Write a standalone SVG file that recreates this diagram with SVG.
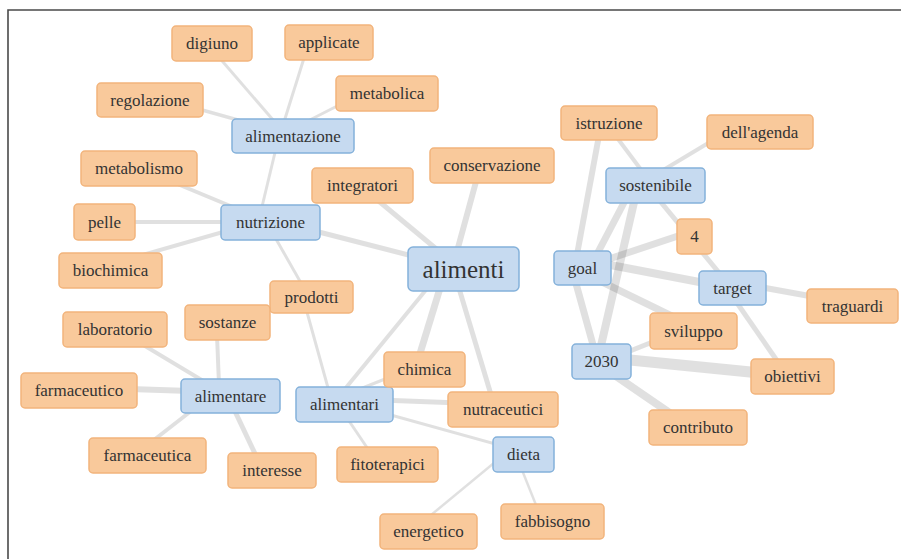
<svg xmlns="http://www.w3.org/2000/svg" width="901" height="559" viewBox="0 0 901 559">
<style>
.e{stroke:#000;stroke-opacity:0.12;fill:none;stroke-linecap:butt}
.o{fill:#f9c99b;stroke:#f2b47c;stroke-width:1.5}
.b{fill:#c6daf0;stroke:#84b1da;stroke-width:1.5}
text{font-family:"Liberation Serif","Times New Roman",serif;font-size:17px;fill:#333;text-anchor:middle;dominant-baseline:central}
.big{font-size:25px}
</style>
<rect width="901" height="559" fill="#fff"/>
<path d="M8 559 V10 H901" fill="none" stroke="#4a4a4a" stroke-width="1.6"/>
<g id="connectors">
<line class="e" x1="217" y1="55" x2="280" y2="128" stroke-width="3"/>
<line class="e" x1="305" y1="55" x2="283" y2="125" stroke-width="3"/>
<line class="e" x1="195" y1="108" x2="245" y2="122" stroke-width="3.5"/>
<line class="e" x1="345" y1="102" x2="300" y2="125" stroke-width="3"/>
<line class="e" x1="278" y1="140" x2="260" y2="215" stroke-width="3"/>
<line class="e" x1="175" y1="183" x2="240" y2="210" stroke-width="4"/>
<line class="e" x1="130" y1="222" x2="225" y2="222" stroke-width="4"/>
<line class="e" x1="125" y1="260" x2="230" y2="230" stroke-width="4"/>
<line class="e" x1="272" y1="232" x2="305" y2="290" stroke-width="3"/>
<line class="e" x1="305" y1="305" x2="330" y2="395" stroke-width="3"/>
<line class="e" x1="315" y1="231" x2="420" y2="258" stroke-width="5"/>
<line class="e" x1="375" y1="198" x2="440" y2="252" stroke-width="5"/>
<line class="e" x1="477" y1="178" x2="456" y2="255" stroke-width="6"/>
<line class="e" x1="430" y1="285" x2="340" y2="395" stroke-width="4"/>
<line class="e" x1="441" y1="285" x2="418" y2="360" stroke-width="7"/>
<line class="e" x1="458" y1="285" x2="492" y2="398" stroke-width="5"/>
<line class="e" x1="345" y1="395" x2="395" y2="375" stroke-width="3"/>
<line class="e" x1="380" y1="400" x2="460" y2="403" stroke-width="5"/>
<line class="e" x1="380" y1="412" x2="510" y2="448" stroke-width="3"/>
<line class="e" x1="345" y1="415" x2="370" y2="452" stroke-width="3"/>
<line class="e" x1="500" y1="458" x2="425" y2="520" stroke-width="2.5"/>
<line class="e" x1="520" y1="465" x2="538" y2="510" stroke-width="2.5"/>
<line class="e" x1="135" y1="340" x2="215" y2="388" stroke-width="4"/>
<line class="e" x1="217" y1="335" x2="219" y2="385" stroke-width="4"/>
<line class="e" x1="130" y1="389" x2="190" y2="391" stroke-width="6"/>
<line class="e" x1="150" y1="443" x2="195" y2="408" stroke-width="4"/>
<line class="e" x1="232" y1="405" x2="258" y2="460" stroke-width="5"/>
<line class="e" x1="615" y1="135" x2="645" y2="175" stroke-width="4"/>
<line class="e" x1="600" y1="130" x2="576" y2="260" stroke-width="6"/>
<line class="e" x1="575" y1="280" x2="595" y2="352" stroke-width="7"/>
<line class="e" x1="715" y1="139" x2="655" y2="175" stroke-width="4"/>
<line class="e" x1="628" y1="195" x2="595" y2="258" stroke-width="7"/>
<line class="e" x1="635" y1="198" x2="600" y2="350" stroke-width="8"/>
<line class="e" x1="655" y1="195" x2="725" y2="280" stroke-width="5"/>
<line class="e" x1="600" y1="262" x2="690" y2="232" stroke-width="7"/>
<line class="e" x1="600" y1="263" x2="715" y2="285" stroke-width="8"/>
<line class="e" x1="600" y1="281" x2="680" y2="320" stroke-width="7"/>
<line class="e" x1="620" y1="355" x2="670" y2="335" stroke-width="5"/>
<line class="e" x1="620" y1="359" x2="770" y2="374" stroke-width="11"/>
<line class="e" x1="610" y1="372" x2="680" y2="420" stroke-width="8"/>
<line class="e" x1="760" y1="287" x2="815" y2="297" stroke-width="6"/>
<line class="e" x1="735" y1="300" x2="780" y2="365" stroke-width="5"/>
</g>
<g id="digiuno"><rect class="o" x="172" y="26" width="80" height="35" rx="4"/><text x="212" y="43.5">digiuno</text></g>
<g id="applicate"><rect class="o" x="285" y="25" width="88" height="35" rx="4"/><text x="329" y="42.5">applicate</text></g>
<g id="regolazione"><rect class="o" x="97" y="83" width="106" height="34" rx="4"/><text x="150" y="100">regolazione</text></g>
<g id="metabolica"><rect class="o" x="336" y="76" width="102" height="35" rx="4"/><text x="387" y="93.5">metabolica</text></g>
<g id="alimentazione"><rect class="b" x="232" y="119" width="122" height="34" rx="4"/><text x="293" y="136">alimentazione</text></g>
<g id="metabolismo"><rect class="o" x="81" y="151" width="116" height="35" rx="4"/><text x="139" y="168.5">metabolismo</text></g>
<g id="integratori"><rect class="o" x="312" y="168" width="101" height="35" rx="4"/><text x="362.5" y="185.5">integratori</text></g>
<g id="conservazione"><rect class="o" x="430" y="148" width="124" height="35" rx="4"/><text x="492" y="165.5">conservazione</text></g>
<g id="istruzione"><rect class="o" x="561" y="106" width="96" height="34" rx="4"/><text x="609" y="123">istruzione</text></g>
<g id="dellagenda"><rect class="o" x="707" y="115" width="106" height="34" rx="4"/><text x="760" y="132">dell'agenda</text></g>
<g id="sostenibile"><rect class="b" x="606" y="168" width="99" height="35" rx="4"/><text x="655.5" y="185.5">sostenibile</text></g>
<g id="n4"><rect class="o" x="677" y="219" width="35" height="35" rx="4"/><text x="694.5" y="236.5">4</text></g>
<g id="pelle"><rect class="o" x="74" y="204" width="61" height="36" rx="4"/><text x="104.5" y="222">pelle</text></g>
<g id="nutrizione"><rect class="b" x="221" y="205" width="99" height="35" rx="4"/><text x="270.5" y="222.5">nutrizione</text></g>
<g id="biochimica"><rect class="o" x="59" y="253" width="103" height="35" rx="4"/><text x="110.5" y="270.5">biochimica</text></g>
<g id="alimenti"><rect class="b" x="408" y="247" width="111" height="44" rx="5"/><text class="big" x="463.5" y="269">alimenti</text></g>
<g id="goal"><rect class="b" x="554" y="251" width="57" height="34" rx="4"/><text x="582.5" y="268">goal</text></g>
<g id="target"><rect class="b" x="699" y="271" width="67" height="34" rx="4"/><text x="732.5" y="288">target</text></g>
<g id="traguardi"><rect class="o" x="807" y="289" width="91" height="34" rx="4"/><text x="852.5" y="306">traguardi</text></g>
<g id="sviluppo"><rect class="o" x="650" y="313" width="87" height="36" rx="4"/><text x="693.5" y="331">sviluppo</text></g>
<g id="n2030"><rect class="b" x="572" y="344" width="59" height="35" rx="4"/><text x="601.5" y="361.5">2030</text></g>
<g id="obiettivi"><rect class="o" x="751" y="359" width="83" height="35" rx="4"/><text x="792.5" y="376.5">obiettivi</text></g>
<g id="contributo"><rect class="o" x="649" y="410" width="98" height="35" rx="4"/><text x="698" y="427.5">contributo</text></g>
<g id="prodotti"><rect class="o" x="270" y="281" width="83" height="32" rx="4"/><text x="311.5" y="297">prodotti</text></g>
<g id="laboratorio"><rect class="o" x="63" y="312" width="104" height="35" rx="4"/><text x="115" y="329.5">laboratorio</text></g>
<g id="sostanze"><rect class="o" x="185" y="305" width="85" height="35" rx="4"/><text x="227.5" y="322.5">sostanze</text></g>
<g id="farmaceutico"><rect class="o" x="21" y="373" width="116" height="35" rx="4"/><text x="79" y="390.5">farmaceutico</text></g>
<g id="alimentare"><rect class="b" x="181" y="379" width="99" height="34" rx="4"/><text x="230.5" y="396">alimentare</text></g>
<g id="alimentari"><rect class="b" x="296" y="387" width="97" height="35" rx="4"/><text x="344.5" y="404.5">alimentari</text></g>
<g id="chimica"><rect class="o" x="384" y="352" width="81" height="35" rx="4"/><text x="424.5" y="369.5">chimica</text></g>
<g id="nutraceutici"><rect class="o" x="448" y="392" width="110" height="35" rx="4"/><text x="503" y="409.5">nutraceutici</text></g>
<g id="farmaceutica"><rect class="o" x="89" y="438" width="117" height="35" rx="4"/><text x="147.5" y="455.5">farmaceutica</text></g>
<g id="interesse"><rect class="o" x="228" y="453" width="88" height="35" rx="4"/><text x="272" y="470.5">interesse</text></g>
<g id="fitoterapici"><rect class="o" x="337" y="447" width="101" height="35" rx="4"/><text x="387.5" y="464.5">fitoterapici</text></g>
<g id="dieta"><rect class="b" x="493" y="437" width="61" height="35" rx="4"/><text x="523.5" y="454.5">dieta</text></g>
<g id="energetico"><rect class="o" x="380" y="514" width="97" height="35" rx="4"/><text x="428.5" y="531.5">energetico</text></g>
<g id="fabbisogno"><rect class="o" x="501" y="504" width="103" height="35" rx="4"/><text x="552.5" y="521.5">fabbisogno</text></g>
</svg>
